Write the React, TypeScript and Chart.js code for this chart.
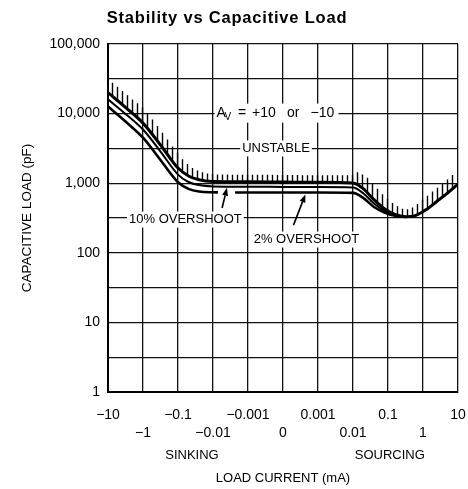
import React, { useEffect, useRef } from 'react';
import { Chart, registerables } from 'chart.js';

Chart.register(...registerables);

const FONT = '"Liberation Sans", Arial, Helvetica, sans-serif';

const titleText = 'Stability vs Capacitive Load';
const xTitle = 'LOAD CURRENT (mA)';
const yTitle = 'CAPACITIVE LOAD (pF)';

// x axis: evenly spaced categories of load current (index 0..10)
const xTickLabels = ['\u221210', '\u22121', '\u22120.1', '\u22120.01', '\u22120.001', '0', '0.001', '0.01', '0.1', '1', '10'];
const yLabelValues = [1, 10, 100, 1000, 10000, 100000];
const yGridValues = [1, 3.162, 10, 31.62, 100, 316.2, 1000, 3162, 10000, 31623, 100000];

// Stability boundary (unstable above)
const boundaryX = [0, 0.5, 1, 1.5, 2, 2.3, 2.6, 3, 4, 5, 6, 7, 7.3, 7.6, 7.9, 8.2, 8.5, 8.8, 9.1, 9.4, 9.7, 10];
const boundaryY = [20000, 12300, 7300, 3540, 1650, 1270, 1120, 1060, 1050, 1040, 1030, 1010, 830, 580, 430, 355, 330, 345, 420, 550, 720, 970];

// 10% overshoot curve
const overshoot10X = [0, 0.5, 1, 1.5, 2, 2.3, 2.6, 3, 4, 5, 6, 7, 7.3, 7.6, 7.9, 8.2, 8.5];
const overshoot10Y = [16000, 9900, 5900, 2850, 1330, 1040, 940, 900, 890, 885, 880, 870, 710, 510, 400, 345, 330];

// 2% overshoot curve (broken where the 10% arrow passes)
const overshoot2X = [0, 0.5, 1, 1.5, 2, 2.3, 2.6, 3, 3.14, 3.4, 3.63, 4, 5, 6, 7, 7.3, 7.6, 7.9, 8.2, 8.5];
const overshoot2Y = [12600, 7700, 4500, 2150, 1030, 830, 760, 740, 738, null, 735, 735, 735, 735, 725, 610, 455, 380, 340, 330];

const toPoints = (xs: number[], ys: (number | null)[]) => xs.map((x, i) => ({ x, y: ys[i] }));

function boxedText(ctx: CanvasRenderingContext2D, text: string, cx: number, cy: number, padX: number, boxH: number) {
  ctx.font = `13px ${FONT}`;
  const w = ctx.measureText(text).width;
  ctx.fillStyle = '#fff';
  ctx.fillRect(cx - w / 2 - padX, cy - boxH / 2, w + 2 * padX, boxH);
  ctx.fillStyle = '#000';
  ctx.textAlign = 'center';
  ctx.textBaseline = 'middle';
  ctx.fillText(text, cx, cy);
}

function arrow(ctx: CanvasRenderingContext2D, x1: number, y1: number, x2: number, y2: number) {
  const a = Math.atan2(y2 - y1, x2 - x1);
  const head = 8, hw = 3;
  const c = Math.cos(a), s = Math.sin(a);
  ctx.strokeStyle = '#000';
  ctx.fillStyle = '#000';
  ctx.lineWidth = 1.6;
  ctx.beginPath();
  ctx.moveTo(x1, y1);
  ctx.lineTo(x2 - head * c, y2 - head * s);
  ctx.stroke();
  ctx.beginPath();
  ctx.moveTo(x2, y2);
  ctx.lineTo(x2 - head * c + hw * s, y2 - head * s - hw * c);
  ctx.lineTo(x2 - head * c - hw * s, y2 - head * s + hw * c);
  ctx.closePath();
  ctx.fill();
}

const annotationPlugin = {
  id: 'annotations',
  afterDatasetsDraw(chart: any) {
    const { ctx, chartArea, scales } = chart;
    const px = (v: number) => scales.x.getPixelForValue(v);
    const py = (v: number) => scales.y.getPixelForValue(v);
    ctx.save();

    // hatching above the stability boundary
    const line = chart.getDatasetMeta(0).dataset;
    ctx.strokeStyle = '#000';
    ctx.lineWidth = 1.4;
    ctx.beginPath();
    for (let x = chartArea.left + 4.5; x < chartArea.right - 0.5; x += 5) {
      const p = line.interpolate({ x }, 'x');
      const x2 = Math.min(x + 2, chartArea.right);
      const q = line.interpolate({ x: x2 }, 'x');
      if (!p || !q || Array.isArray(p) || Array.isArray(q)) continue;
      const slope = x2 > x ? Math.abs((q.y - p.y) / (x2 - x)) : 0;
      const len = 7 + 8 * Math.min(slope, 1);
      ctx.moveTo(x, p.y - 1);
      ctx.lineTo(x, p.y - len);
    }
    ctx.stroke();

    // A_V = +10 or -10
    const ax = px(3.1);
    const ay = py(10000);
    ctx.fillStyle = '#fff';
    ctx.fillRect(ax - 2, ay - 10, 124, 19);
    ctx.fillStyle = '#000';
    ctx.textBaseline = 'middle';
    ctx.textAlign = 'left';
    ctx.font = `14px ${FONT}`;
    ctx.fillText('A', ax, ay);
    ctx.font = `10px ${FONT}`;
    ctx.fillText('V', ax + 8, ay + 4);
    ctx.font = `14px ${FONT}`;
    ctx.fillText('=', ax + 21.5, ay);
    ctx.fillText('+10', ax + 35.5, ay);
    ctx.fillText('or', ax + 70.5, ay);
    ctx.fillText('\u221210', ax + 94, ay);

    boxedText(ctx, 'UNSTABLE', px(4.8), py(3162), 2, 16);
    boxedText(ctx, '10% OVERSHOOT', px(2.21), py(300), 2, 16);
    boxedText(ctx, '2% OVERSHOOT', px(5.67), py(155), 2, 16);

    arrow(ctx, px(3.26), py(440), px(3.4), py(860));
    arrow(ctx, px(5.3), py(250), px(5.64), py(690));

    ctx.restore();
  },
  afterDraw(chart: any) {
    const { ctx, chartArea, scales } = chart;
    ctx.save();
    ctx.fillStyle = '#000';
    ctx.textBaseline = 'middle';
    ctx.textAlign = 'center';
    // title
    ctx.font = `bold 16.5px ${FONT}`;
    (ctx as any).letterSpacing = '0.8px';
    ctx.fillText(titleText, 227, 18);
    (ctx as any).letterSpacing = '0px';
    ctx.font = `13px ${FONT}`;
    ctx.fillText('SINKING', scales.x.getPixelForValue(2.4), chartArea.bottom + 63);
    ctx.fillText('SOURCING', scales.x.getPixelForValue(8.05), chartArea.bottom + 63);
    ctx.restore();
  },
};

export default function App() {
  const ref = useRef<HTMLCanvasElement>(null);
  useEffect(() => {
    const lineDs = (data: any[], w: number) => ({
      data,
      borderColor: '#000',
      borderWidth: w,
      pointRadius: 0,
      fill: false,
      cubicInterpolationMode: 'monotone' as const,
      spanGaps: false,
    });
    const chart = new Chart(ref.current!, {
      type: 'line',
      data: {
        datasets: [
          lineDs(toPoints(boundaryX, boundaryY), 3),
          lineDs(toPoints(overshoot10X, overshoot10Y), 2),
          lineDs(toPoints(overshoot2X, overshoot2Y), 2.6),
        ],
      },
      options: {
        responsive: false,
        animation: false,
        events: [],
        layout: { padding: { left: 0, right: 10, top: 44, bottom: 0 } },
        plugins: {
          legend: { display: false },
          tooltip: { enabled: false },
          title: { display: false },
        },
        scales: {
          x: {
            type: 'linear',
            min: 0,
            max: 10,
            afterBuildTicks: (scale: any) => {
              scale.ticks = xTickLabels.map((_, i) => ({ value: i }));
            },
            afterFit: (scale: any) => {
              scale.height = 97;
              scale.paddingLeft = 12;
              scale.paddingRight = 8;
            },
            ticks: {
              autoSkip: false,
              maxRotation: 0,
              minRotation: 0,
              padding: 14,
              color: '#000',
              font: { family: FONT, size: 14, lineHeight: '18px' },
              callback: (v: any) => {
                const i = Math.round(Number(v));
                return i % 2 === 0 ? xTickLabels[i] : ['', xTickLabels[i]];
              },
            },
            grid: { color: '#111', lineWidth: 1.3, drawTicks: false },
            border: { color: '#000', width: 2 },
            title: {
              display: true,
              text: xTitle,
              color: '#000',
              font: { family: FONT, size: 13, lineHeight: 1.2 },
              padding: { top: 0, bottom: 3.2 },
            },
          },
          y: {
            type: 'logarithmic',
            min: 1,
            max: 100000,
            afterBuildTicks: (scale: any) => {
              scale.ticks = yGridValues.map((v) => ({ value: v }));
            },
            afterFit: (scale: any) => {
              scale.width = 108;
            },
            ticks: {
              autoSkip: false,
              padding: 8,
              color: '#000',
              font: { family: FONT, size: 14 },
              callback: (v: any) => (yLabelValues.includes(Number(v)) ? Number(v).toLocaleString('en-US') : ''),
            },
            grid: { color: '#111', lineWidth: 1.3, drawTicks: false },
            border: { color: '#000', width: 2 },
            title: {
              display: true,
              text: yTitle,
              color: '#000',
              font: { family: FONT, size: 13.5, lineHeight: 1.2 },
              padding: { top: 19, bottom: 0 },
            },
          },
        },
      },
      plugins: [annotationPlugin],
    } as any);
    return () => chart.destroy();
  }, []);
  return (
    <div style={{ position: 'absolute', left: 0, top: 0, width: 468, height: 489, background: '#fff' }}>
      <canvas ref={ref} width={468} height={489} style={{ display: 'block', width: 468, height: 489 }} />
    </div>
  );
}
